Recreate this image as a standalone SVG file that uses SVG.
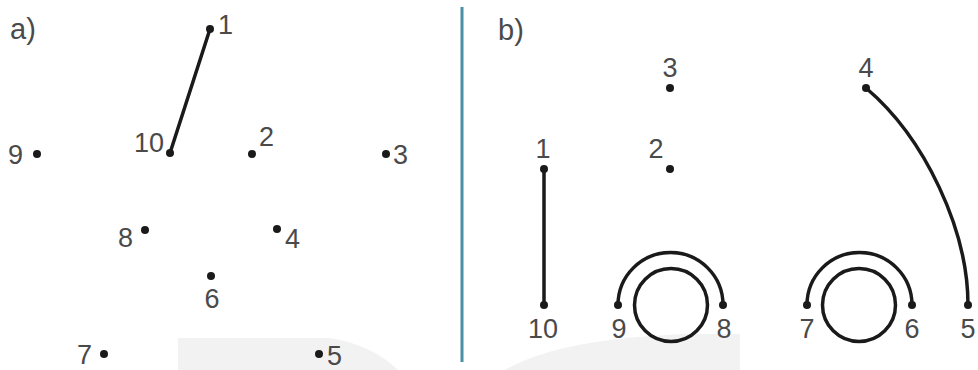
<svg xmlns="http://www.w3.org/2000/svg" width="978" height="370" viewBox="0 0 978 370">
<style>
.lbl{font-family:"Liberation Sans",Arial,sans-serif;font-size:27px;fill:#4a4a4a}
.big{font-size:29px}
.mid{text-anchor:middle}
.dot{fill:#1a1a1a}
.ln{fill:none;stroke:#1a1a1a;stroke-width:3.5;stroke-linecap:round}
.wm{fill:#f2f2f2}
</style>
<rect width="978" height="370" fill="#ffffff"/>
<g id="watermark">
<path class="wm" d="M178,338 L330,338 Q372,345 398,370 L178,370 Z"/>
<path class="wm" d="M505,370 Q560,338 690,334 L740,334 L740,370 Z"/>
</g>
<line x1="462" y1="7" x2="462" y2="362" stroke="#4a8fa5" stroke-width="3"/>
<text class="lbl big" x="10" y="39">a)</text>
<text class="lbl big" x="498" y="40">b)</text>
<g id="connectors">
<line class="ln" x1="210" y1="29" x2="170" y2="153"/>
<line class="ln" x1="544" y1="169" x2="544" y2="305"/>
<path class="ln" d="M618,305 A52.5,52.5 0 0 1 723,305"/>
<circle class="ln" cx="671" cy="305" r="36.5"/>
<path class="ln" d="M807,305 A52.5,52.5 0 0 1 912,305"/>
<circle class="ln" cx="859" cy="305" r="36.5"/>
<path class="ln" d="M866,88 C925,138 968,230 968,305"/>
</g>
<g id="a1"><circle class="dot" cx="210" cy="29" r="4"/><text class="lbl" x="218" y="34">1</text></g>
<g id="a2"><circle class="dot" cx="252" cy="154" r="4"/><text class="lbl" x="259" y="146">2</text></g>
<g id="a3"><circle class="dot" cx="386" cy="154" r="4"/><text class="lbl" x="393" y="164">3</text></g>
<g id="a4"><circle class="dot" cx="277" cy="229" r="4"/><text class="lbl" x="285" y="248">4</text></g>
<g id="a5"><circle class="dot" cx="319" cy="354" r="4"/><text class="lbl" x="327" y="365">5</text></g>
<g id="a6"><circle class="dot" cx="211" cy="276" r="4"/><text class="lbl mid" x="212" y="308">6</text></g>
<g id="a7"><circle class="dot" cx="104" cy="354" r="4"/><text class="lbl" x="77" y="364">7</text></g>
<g id="a8"><circle class="dot" cx="145" cy="230" r="4"/><text class="lbl" x="118" y="247">8</text></g>
<g id="a9"><circle class="dot" cx="37" cy="154" r="4"/><text class="lbl" x="8" y="164">9</text></g>
<g id="a10"><circle class="dot" cx="170" cy="153" r="4"/><text class="lbl" x="134" y="152">10</text></g>
<g id="b1"><circle class="dot" cx="544" cy="169" r="4"/><text class="lbl mid" x="543" y="158">1</text></g>
<g id="b2"><circle class="dot" cx="670" cy="169" r="4"/><text class="lbl mid" x="656" y="158">2</text></g>
<g id="b3"><circle class="dot" cx="670" cy="88" r="4"/><text class="lbl mid" x="670" y="77">3</text></g>
<g id="b4"><circle class="dot" cx="866" cy="88" r="4"/><text class="lbl mid" x="866" y="77">4</text></g>
<g id="b5"><circle class="dot" cx="968" cy="305" r="4"/><text class="lbl mid" x="968" y="338">5</text></g>
<g id="b6"><circle class="dot" cx="912" cy="305" r="4"/><text class="lbl mid" x="912" y="338">6</text></g>
<g id="b7"><circle class="dot" cx="807" cy="305" r="4"/><text class="lbl mid" x="807" y="338">7</text></g>
<g id="b8"><circle class="dot" cx="723" cy="305" r="4"/><text class="lbl mid" x="724" y="338">8</text></g>
<g id="b9"><circle class="dot" cx="618" cy="305" r="4"/><text class="lbl mid" x="619" y="338">9</text></g>
<g id="b10"><circle class="dot" cx="544" cy="305" r="4"/><text class="lbl mid" x="543" y="338">10</text></g>
</svg>
